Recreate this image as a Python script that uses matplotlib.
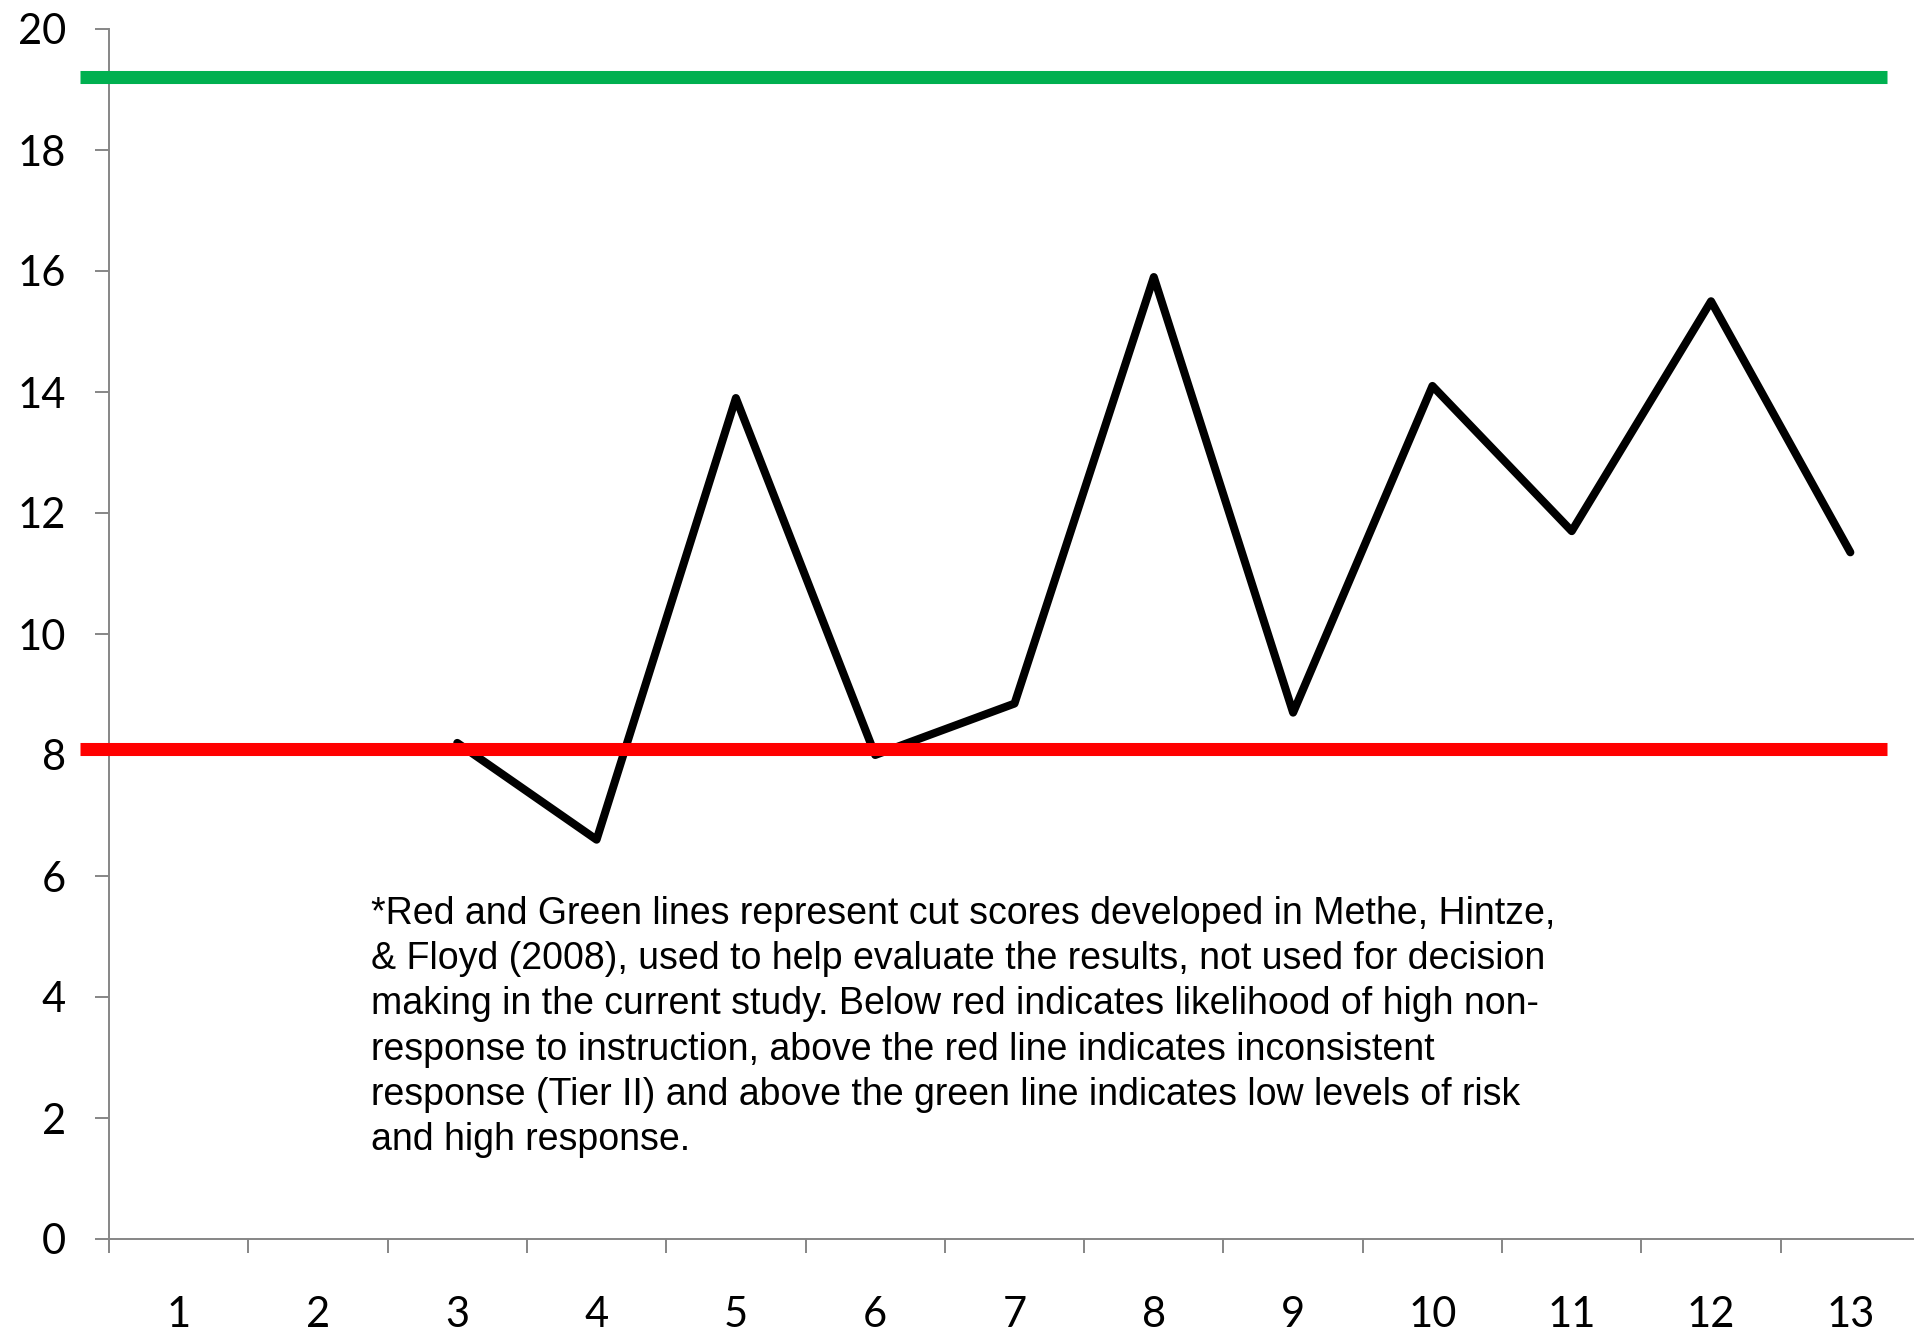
import numpy as np
import matplotlib
matplotlib.use("Agg")
import matplotlib.pyplot as plt

# data
weeks = list(range(1, 14))
scores = [np.nan, np.nan, 8.2, 6.6, 13.9, 8.0, 8.85, 15.9, 8.7, 14.1, 11.7, 15.5, 11.35]
green_cut = 19.2
red_cut = 8.1
note = ("*Red and Green lines represent cut scores developed in Methe, Hintze,\n"
        "& Floyd (2008), used to help evaluate the results, not used for decision\n"
        "making in the current study. Below red indicates likelihood of high non-\n"
        "response to instruction, above the red line indicates inconsistent\n"
        "response (Tier II) and above the green line indicates low levels of risk\n"
        "and high response.")

W, H = 1915, 1335
fig = plt.figure(figsize=(W / 100, H / 100), dpi=100)
left, right, bottom, top = 109, 1920, 1239, 29
ax = fig.add_axes([left / W, (H - bottom) / H, (right - left) / W, (bottom - top) / H])

ax.plot(weeks, scores, color="black", lw=5.8, solid_joinstyle="round",
        solid_capstyle="round", zorder=3)

# cut score lines extend a little past the y axis
ax.plot([0.29, 13.26], [green_cut, green_cut], color="#00B050", lw=9.4,
        solid_capstyle="butt", clip_on=False, zorder=4)
ax.plot([0.29, 13.26], [red_cut, red_cut], color="#FF0000", lw=9.4,
        solid_capstyle="butt", clip_on=False, zorder=4)

ax.set_xlim(0.5, 13.5)
ax.set_ylim(0, 20)

gray = "#868686"
for s in ["top", "right"]:
    ax.spines[s].set_visible(False)
for s in ["left", "bottom"]:
    ax.spines[s].set_color(gray)
    ax.spines[s].set_linewidth(1.4)

ax.set_yticks(np.arange(0, 21, 2))
ax.tick_params(axis="y", length=10, width=1.4, color=gray, pad=21,
               labelsize=30, labelcolor="black")
ax.set_xticks(np.arange(0.5, 13.5, 1))
ax.set_xticklabels([])
ax.set_xticks(weeks, minor=True)
ax.set_xticklabels([str(w) for w in weeks], minor=True)
ax.tick_params(axis="x", which="major", length=10, width=1.4, color=gray)
ax.tick_params(axis="x", which="minor", length=0, pad=41, labelsize=30)
for lab in ax.get_yticklabels() + ax.get_xticklabels(minor=True):
    lab.set_family("Lato")

fig.text(371 / W, 1 - 896 / H, note, ha="left", va="top", fontsize=27,
         family="Liberation Sans", linespacing=1.33)

fig.savefig("out.png", dpi=100, facecolor="white")
